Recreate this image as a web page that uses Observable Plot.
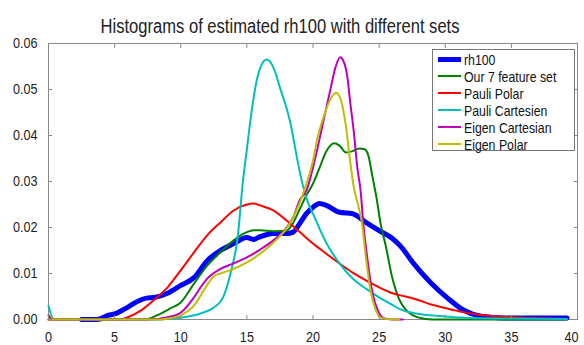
<!DOCTYPE html>
<html><head><meta charset="utf-8">
<script src="https://cdn.jsdelivr.net/npm/d3@7"></script>
<script src="https://cdn.jsdelivr.net/npm/@observablehq/plot@0.6"></script>
<style>
body{margin:0;background:#fff;font-family:"Liberation Sans",Arial,sans-serif;}
#wrap{position:relative;width:584px;height:345px;overflow:hidden;}
#title{position:absolute;left:280px;top:15px;font-size:19.5px;color:#222;line-height:22px;white-space:nowrap;transform-origin:0 0;}
#chart{position:absolute;left:0;top:34px;}
#legend{position:absolute;left:432px;top:49px;width:141px;height:100px;border:1px solid #777;background:#fff;}
.item{position:absolute;left:5px;height:17px;font-size:15px;line-height:17px;color:#111;white-space:nowrap;}
.item span.sw{display:inline-block;width:23px;vertical-align:middle;margin-right:3px;}
.item span.tx{display:inline-block;transform:scaleX(0.82);transform-origin:0 50%;vertical-align:middle;}
</style></head><body>
<div id="wrap"><div id="chart"></div><div id="legend"></div><div id="title">Histograms of estimated rh100 with different sets</div></div>
<script>
const seriesNames = ["rh100","Our 7 feature set","Pauli Polar","Pauli Cartesien","Eigen Cartesian","Eigen Polar"];
const seriesColors = ["#0000ff","#008000","#ff0000","#00bfbf","#bf00bf","#bfbf00"];
const seriesWidths = [5,2,2,2,2,2];

const rh100X = [2.5,3.7,4.5,5,6,7,7.5,8,9,10,11,12,13,14,15,15.5,16,17,18,18.5,19,19.5,20,20.5,21,22,23,24,25,26,26.6,27.6,28.9,30.2,31.4,32.7,34,36,39.2];
const rh100Y = [0,0,0.0009,0.0012,0.0027,0.0043,0.0047,0.0048,0.0057,0.0074,0.0091,0.0128,0.015,0.0165,0.0178,0.0174,0.018,0.0187,0.0187,0.019,0.0209,0.023,0.0244,0.0252,0.0248,0.0233,0.023,0.0211,0.0193,0.0176,0.016,0.0122,0.008,0.0046,0.002,0.0007,0.0004,0.0003,0.0003];

const greenX = [0,7.3,8.2,9.2,10,11,12,13,14,15,15.5,16,17,18,18.5,19,19.5,20,20.5,21,21.6,22,22.5,23,23.5,23.9,24.2,24.5,24.8,25.1,25.5,26,26.5,27,27.5,28,29,39.2];
const greenY = [0,0,0.0009,0.0024,0.0037,0.0078,0.0117,0.0146,0.0172,0.019,0.0194,0.0194,0.0192,0.0193,0.021,0.024,0.027,0.0295,0.033,0.0365,0.0383,0.0378,0.0363,0.0366,0.0372,0.037,0.0355,0.031,0.0265,0.021,0.016,0.009,0.0045,0.0022,0.001,0.0004,0,0];

const redX = [0,0.3,5.5,6,7,8,9,10,11,12,13,14,15,15.5,16,17,18,19,20,21,22,23,24,25,26,27,28,29,30,31.4,32.7,35,37.7,39.2];
const redY = [0.0009,0,0,0.0005,0.002,0.0043,0.007,0.0107,0.0146,0.0183,0.0211,0.0237,0.025,0.0252,0.0248,0.0237,0.0215,0.019,0.0165,0.0143,0.0122,0.0102,0.0085,0.007,0.0057,0.005,0.0042,0.0032,0.0025,0.0016,0.001,0.0005,0.0002,0.0001];

const cyanX = [0,0.4,8.5,9,10,11.5,12.5,13.2,13.8,14.3,14.7,15,15.3,15.8,16.1,16.5,17,17.5,18.3,18.8,19.2,19.55,20,21,22,23,24,25,26,26.6,27.6,28.9,31.4,35,39.2];
const cyanY = [0.003,0,0,0.0002,0.0004,0.0013,0.0026,0.0048,0.0105,0.0178,0.03,0.037,0.044,0.0527,0.0553,0.0565,0.0548,0.0504,0.0426,0.035,0.0295,0.026,0.023,0.0167,0.0122,0.0089,0.0067,0.0048,0.0032,0.0022,0.0014,0.0009,0.0004,0.0002,0.0001];

const magentaX = [0,7.5,9,10,11,11.5,12,13,14,15,16,17,18,18.5,19,19.5,20,20.3,20.8,21.3,21.7,22.05,22.3,22.6,22.8,23.1,23.35,23.6,23.8,24.1,24.5,24.9,25.35,26,26.8];
const magentaY = [0,0,0.0005,0.0015,0.0048,0.007,0.0089,0.011,0.0122,0.0135,0.0152,0.0172,0.02,0.0222,0.026,0.028,0.033,0.0367,0.0433,0.0498,0.0548,0.057,0.0562,0.0527,0.0476,0.0404,0.033,0.028,0.021,0.0135,0.0057,0.002,0.0003,0,0];

const yellowX = [0,8.5,9,10,11,12,12.5,13,14,15,16,17,18,18.5,19,19.5,20,20.3,20.8,21.3,21.75,22.1,22.5,22.8,23.1,23.4,23.7,24,24.35,24.7,25.2,26,26.5];
const yellowY = [0,0,0.0002,0.0009,0.003,0.0075,0.0094,0.01,0.011,0.0124,0.0143,0.0167,0.0198,0.0222,0.0254,0.0295,0.0345,0.039,0.044,0.0478,0.0493,0.0478,0.0418,0.0346,0.0285,0.025,0.021,0.0135,0.0063,0.0024,0.0003,0,0];

const xTicks = [0,5,10,15,20,25,30,35,40];
const yTicks = [0,0.01,0.02,0.03,0.04,0.05,0.06];

const allX = [rh100X, greenX, redX, cyanX, magentaX, yellowX];
const allY = [rh100Y, greenY, redY, cyanY, magentaY, yellowY];
const rows = [];
allX.forEach((xs, s) => xs.forEach((x, i) => rows.push({s: seriesNames[s], x, y: allY[s][i]})));

const marks = [Plot.frame({stroke:"#888", strokeWidth:1})];
seriesNames.forEach((name, s) => {
  marks.push(Plot.line(rows.filter(d => d.s === name), {x:"x", y:"y", stroke: seriesColors[s], strokeWidth: seriesWidths[s], curve:"monotone-x"}));
});
const lastTick = xTicks[xTicks.length - 1];
marks.push(
  Plot.axisX(xTicks.filter(t => t !== lastTick), {anchor:"bottom", tickSize:0, tickPadding:12, fontSize:15, fill:"#222", label:null}),
  Plot.axisX([lastTick], {anchor:"bottom", tickSize:0, tickPadding:12, fontSize:15, fill:"#222", label:null, dx:-6}),
  Plot.axisX(xTicks, {anchor:"bottom", tickSize:-4, tickFormat:() => "", stroke:"#888", label:null}),
  Plot.axisX(xTicks, {anchor:"top", tickSize:-4, tickFormat:() => "", stroke:"#888", label:null}),
  Plot.axisY(yTicks, {anchor:"left", tickSize:0, tickPadding:11, fontSize:15, fill:"#222", tickFormat: d3.format(".2f"), label:null}),
  Plot.axisY(yTicks, {anchor:"left", tickSize:-4, tickFormat:() => "", stroke:"#888", label:null}),
  Plot.axisY(yTicks, {anchor:"right", tickSize:-4, tickFormat:() => "", stroke:"#888", label:null})
);

const chart = Plot.plot({
  width: 584, height: 311,
  marginLeft: 48, marginRight: 7, marginTop: 9, marginBottom: 26,
  style: {fontFamily: '"Liberation Sans",Arial,sans-serif', background:"#fff", overflow:"visible"},
  x: {domain:[0,40]},
  y: {domain:[0,0.06]},
  marks
});
document.getElementById("chart").appendChild(chart);
// narrow the glyphs (reference uses a condensed face)
chart.querySelectorAll("text").forEach(t => {
  const L = t.getComputedTextLength();
  if (L > 0) { t.setAttribute("textLength", (L*0.84).toFixed(2)); t.setAttribute("lengthAdjust","spacingAndGlyphs"); }
});

const title = document.getElementById("title");
const tw = title.getBoundingClientRect().width;
const sx = 359 / tw;
title.style.transform = `translateX(${-179.5}px) scaleX(${sx})`;

const leg = document.getElementById("legend");
seriesNames.forEach((name, s) => {
  const it = document.createElement("div");
  it.className = "item";
  it.style.top = (-1 + s*17) + "px";
  const sw = document.createElement("span");
  sw.className = "sw";
  sw.style.borderTop = (s === 0 ? 5 : 2) + "px solid " + seriesColors[s];
  it.appendChild(sw);
  const tx = document.createElement("span");
  tx.className = "tx";
  tx.textContent = name;
  it.appendChild(tx);
  leg.appendChild(it);
});
</script></body></html>
